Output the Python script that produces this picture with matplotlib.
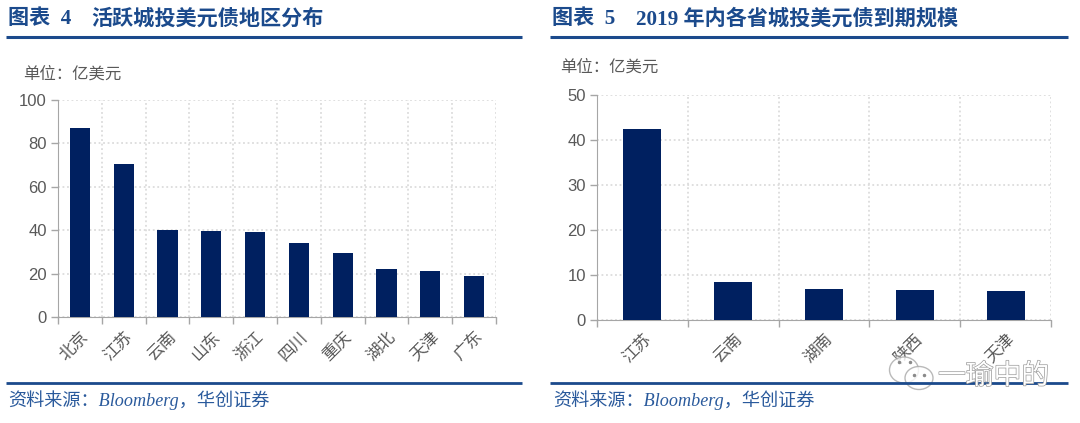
#!/usr/bin/env python
# Two bar panels: USD bonds of LGFVs by province, from the Huachuang report page

import matplotlib
matplotlib.use('Agg')
import matplotlib.pyplot as plt
import matplotlib.patheffects as pe
from matplotlib.patches import Ellipse
from matplotlib.transforms import ScaledTranslation

plt.rcParams['font.family'] = ['Liberation Sans', 'Noto Sans CJK SC', 'DejaVu Sans']

left_cats = ['北京', '江苏', '云南', '山东', '浙江', '四川', '重庆', '湖北', '天津', '广东']
left_vals = [87, 70.5, 40, 39.5, 39, 34, 29.5, 22.3, 21, 19]
left_ticks = [0, 20, 40, 60, 80, 100]

right_cats = ['江苏', '云南', '湖南', '陕西', '天津']
right_vals = [42.5, 8.4, 6.8, 6.6, 6.4]
right_ticks = [0, 10, 20, 30, 40, 50]

W, H = 1080, 423
BAR = '#002060'
GREY = '#595959'
BLUE = '#1b4a8c'
SERIF = ['Liberation Serif', 'Noto Sans CJK SC']
# full-width colon and comma
UNIT = '单位\uff1a亿美元'
SOURCE = '资料来源\uff1aBloomberg\uff0c华创证券'


def panel(fig, box, cats, vals, ticks, width):
    x0, x1, ytop, ybot = box
    ax = fig.add_axes([x0 / W, 1 - ybot / H, (x1 - x0) / W, (ybot - ytop) / H])
    xs = list(range(len(cats)))
    ax.bar(xs, vals, width=width, color=BAR, zorder=3)
    ax.set_xlim(-0.5, len(cats) - 0.5)
    ax.set_ylim(ticks[0], ticks[-1])
    ax.set_yticks(ticks)
    ax.set_xticks([i - 0.5 for i in range(len(cats) + 1)], minor=False)
    ax.set_xticklabels([])
    # labels go on minor ticks so they sit under the bars, between the tick marks
    ax.set_xticks(xs, minor=True)
    labels = ax.set_xticklabels(cats, minor=True, rotation=45, ha='right', va='top',
                                rotation_mode='anchor', fontsize=12, color=GREY,
                                family='Noto Sans CJK SC')
    nudge = ScaledTranslation(-4.5 / 100, 0, fig.dpi_scale_trans)
    for lab in labels:
        lab.set_transform(lab.get_transform() + nudge)
    ax.tick_params(axis='x', which='minor', length=0, pad=8)
    ax.tick_params(axis='x', which='major', length=5, color='#a6a6a6', width=1)
    ax.tick_params(axis='y', length=5, color='#a6a6a6', width=1, labelsize=12,
                   labelcolor=GREY, pad=3)
    ax.grid(True, which='major', color='#dcdcdc', linestyle=(0, (1, 1.5)), linewidth=1.3)
    ax.set_axisbelow(True)
    for side in ['top', 'right']:
        ax.spines[side].set_visible(False)
    for side in ['left', 'bottom']:
        ax.spines[side].set_color('#a6a6a6')
    return ax


fig = plt.figure(figsize=(W / 100, H / 100), dpi=100, facecolor='white')

panel(fig, (58, 496, 100, 317), left_cats, left_vals, left_ticks, 0.46)
panel(fig, (597, 1051, 95, 319.5), right_cats, right_vals, right_ticks, 0.42)

# page furniture, in pixel coords
page = fig.add_axes([0, 0, 1, 1], facecolor='none', zorder=5)
page.set_xlim(0, W)
page.set_ylim(H, 0)
page.axis('off')

for a, b in [(6, 522), (550, 1068)]:
    page.plot([a, b], [37, 37], color=BLUE, lw=2.2, solid_capstyle='butt')
    page.plot([a, b], [383, 383], color=BLUE, lw=2.0, solid_capstyle='butt')

heads = [(8, '图表  4', 91, '活跃城投美元债地区分布'),
         (552, '图表  5', 636, '2019 年内各省城投美元债到期规模')]
for x1, label, x2, title in heads:
    page.text(x1, 19, label, color=BLUE, fontsize=15.2, fontweight='bold',
              family=SERIF, va='center')
    page.text(x2, 19, title, color=BLUE, fontsize=15.2, fontweight='bold',
              family=SERIF, va='center')

page.text(23, 74, UNIT, color=GREY, fontsize=11.8,
          family='Noto Sans CJK SC', va='center')
page.text(560, 67, UNIT, color=GREY, fontsize=11.8,
          family='Noto Sans CJK SC', va='center')

for x in [8, 553]:
    page.text(x, 400, SOURCE, color='#2a5a9c', fontsize=13.1,
              family=SERIF, style='italic', va='center')

# watermark
for cx, cy, w, h, dots in [(904, 370, 29, 26, [(899, 362), (910, 362)]),
                           (919, 378, 28, 23, [(914, 375), (924, 375)])]:
    page.add_patch(Ellipse((cx, cy), w, h, facecolor='white', edgecolor='#a8a8a8',
                           lw=1, alpha=0.8))
    for dx, dy in dots:
        page.plot([dx], [dy], 'o', ms=1.5, color='#8a8a8a')
page.text(938, 376, '一瑜中的', color='white', fontsize=20,
          family='Noto Sans CJK SC', va='center',
          path_effects=[pe.withStroke(linewidth=1, foreground='#9a9a9a')])

fig.savefig('out.png', dpi=100)
